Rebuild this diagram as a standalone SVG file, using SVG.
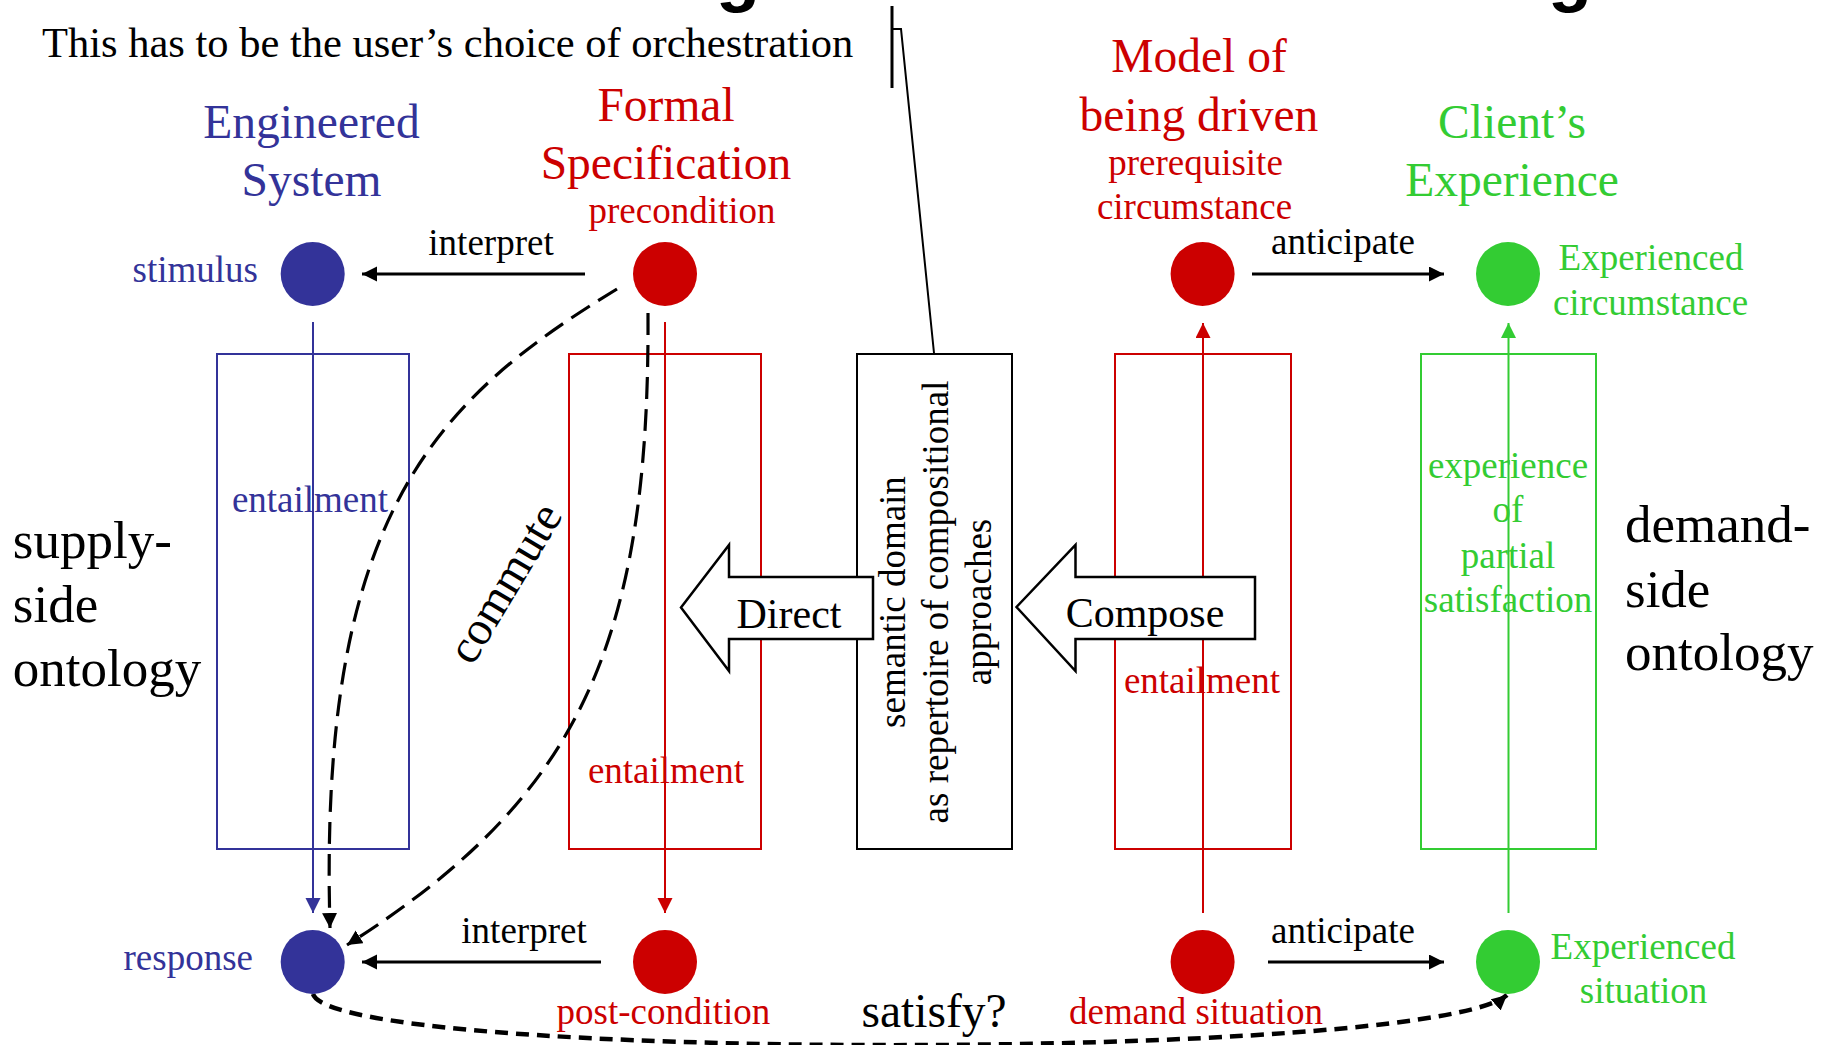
<svg xmlns="http://www.w3.org/2000/svg" width="1829" height="1045" viewBox="0 0 1829 1045">
<style>
text{font-family:"Liberation Serif","Times New Roman",serif;}
.blue{fill:#333399}
.red{fill:#CC0000}
.green{fill:#33CC33}
.blk{fill:#000}
.big{font-size:47.5px}
.sm{font-size:37px}
.side{font-size:53px}
.mid{text-anchor:middle}
.end{text-anchor:end}
.box{fill:none;stroke-width:2}
.hline{stroke:#000;stroke-width:3;fill:none}
.dash{stroke:#000;stroke-width:3.2;fill:none;stroke-dasharray:22 10}
.dash2{stroke:#000;stroke-width:4.5;fill:none;stroke-dasharray:13 8}
.block{fill:#fff;stroke:#000;stroke-width:2.5}
</style>
<defs>
<marker id="ahK" markerUnits="userSpaceOnUse" markerWidth="16" markerHeight="16" refX="15" refY="7.5" orient="auto"><path d="M0,0 L15,7.5 L0,15 z" fill="#000"/></marker>
<marker id="ahB" markerUnits="userSpaceOnUse" markerWidth="16" markerHeight="16" refX="15" refY="7.5" orient="auto"><path d="M0,0 L15,7.5 L0,15 z" fill="#333399"/></marker>
<marker id="ahR" markerUnits="userSpaceOnUse" markerWidth="16" markerHeight="16" refX="15" refY="7.5" orient="auto"><path d="M0,0 L15,7.5 L0,15 z" fill="#CC0000"/></marker>
<marker id="ahG" markerUnits="userSpaceOnUse" markerWidth="16" markerHeight="16" refX="15" refY="7.5" orient="auto"><path d="M0,0 L15,7.5 L0,15 z" fill="#33CC33"/></marker>
</defs>
<rect width="1829" height="1045" fill="#fff"/>

<g id="title-fragments" font-weight="bold" font-size="72">
<text x="716" y="-2" style="font-family:'Liberation Sans',Arial,sans-serif">g</text>
<text x="1548" y="-2" style="font-family:'Liberation Sans',Arial,sans-serif">g</text>
</g>

<g id="note">
<text x="42" y="56.5" font-size="42.5" class="blk">This has to be the user’s choice of orchestration</text>
</g>

<g id="supply-side">
<text class="side blk" x="12.8" y="557.6">supply-</text>
<text class="side blk" x="12.8" y="621.7">side</text>
<text class="side blk" x="12.8" y="686">ontology</text>
</g>
<g id="demand-side">
<text class="side blk" x="1625" y="542">demand-</text>
<text class="side blk" x="1625" y="606.5">side</text>
<text class="side blk" x="1625" y="670">ontology</text>
</g>

<g id="engineered-system">
<text class="big blue mid" x="311.5" y="137.6">Engineered</text>
<text class="big blue mid" x="311.5" y="196">System</text>
</g>
<g id="formal-specification">
<text class="big red mid" x="666" y="121">Formal</text>
<text class="big red mid" x="666" y="179">Specification</text>
</g>
<g id="model-being-driven">
<text class="big red mid" x="1199" y="72">Model of</text>
<text class="big red mid" x="1199" y="131">being driven</text>
</g>
<g id="clients-experience">
<text class="big green mid" x="1512" y="138">Client’s</text>
<text class="big green mid" x="1512" y="196">Experience</text>
</g>

<g id="box-engineered">
<rect class="box" x="217" y="354" width="192" height="495" stroke="#333399"/>
</g>
<g id="box-formal">
<rect class="box" x="569" y="354" width="192" height="495" stroke="#CC0000"/>
</g>
<g id="box-semantic">
<rect class="box" x="857" y="354" width="155" height="495" stroke="#000"/>
<g transform="translate(0,602) rotate(-90)">
<text class="sm blk mid" x="0" y="905">semantic domain</text>
<text class="sm blk mid" x="0" y="948">as repertoire of compositional</text>
<text class="sm blk mid" x="0" y="991">approaches</text>
</g>
</g>
<g id="box-model">
<rect class="box" x="1115" y="354" width="176" height="495" stroke="#CC0000"/>
</g>
<g id="box-client">
<rect class="box" x="1421" y="354" width="175" height="495" stroke="#33CC33"/>
</g>

<g id="connectors">
<line class="hline" x1="892" y1="6" x2="892" y2="88"/>
<polyline class="hline" style="stroke-width:2" points="892,29 901,29 934,353"/>
<line class="hline" x1="585" y1="274" x2="362" y2="274" marker-end="url(#ahK)"/>
<line class="hline" x1="601" y1="962" x2="362" y2="962" marker-end="url(#ahK)"/>
<line class="hline" x1="1252" y1="274" x2="1444" y2="274" marker-end="url(#ahK)"/>
<line class="hline" x1="1268" y1="962" x2="1444" y2="962" marker-end="url(#ahK)"/>
<line x1="313" y1="322" x2="313" y2="913" stroke="#333399" stroke-width="2" marker-end="url(#ahB)"/>
<line x1="665" y1="322" x2="665" y2="913" stroke="#CC0000" stroke-width="2" marker-end="url(#ahR)"/>
<line x1="1203" y1="913" x2="1203" y2="323" stroke="#CC0000" stroke-width="2" marker-end="url(#ahR)"/>
<line x1="1508.5" y1="913" x2="1508.5" y2="323" stroke="#33CC33" stroke-width="2" marker-end="url(#ahG)"/>
<path class="dash" d="M617,289 C435,400 318,515 330,928" marker-end="url(#ahK)"/>
<path class="dash" d="M648,313 C650,650 575,800 347,945" marker-end="url(#ahK)"/>
<path class="dash2" d="M313,994 C335,1062 1430,1062 1507,995" marker-end="url(#ahK)"/>
</g>

<g id="direct">
<polygon class="block" points="681,607.5 729,545 729,577 873,577 873,639 729,639 729,671"/>
<text x="789" y="627.5" font-size="42" class="blk mid">Direct</text>
</g>
<g id="compose">
<polygon class="block" points="1016.5,607 1075.5,545 1075.5,577 1255,577 1255,639 1075.5,639 1075.5,671"/>
<text x="1145" y="627" font-size="42" class="blk mid">Compose</text>
</g>

<g id="labels">
<text class="sm blk mid" x="491" y="255">interpret</text>
<text class="sm blk mid" x="524" y="943">interpret</text>
<text class="sm blk mid" x="1343" y="254">anticipate</text>
<text class="sm blk mid" x="1343" y="943">anticipate</text>
<text class="sm blue mid" x="310" y="511.5">entailment</text>
<text class="sm red mid" x="666" y="783">entailment</text>
<text class="sm red mid" x="1202" y="692.5">entailment</text>
<text class="sm green mid" x="1508" y="478">experience</text>
<text class="sm green mid" x="1508" y="522">of</text>
<text class="sm green mid" x="1508" y="567.5">partial</text>
<text class="sm green mid" x="1508" y="612">satisfaction</text>
<text x="0" y="0" font-size="47.5" class="blk mid" transform="translate(518,591) rotate(-59)">commute</text>
<text x="934" y="1026.5" font-size="47.5" class="blk mid">satisfy?</text>
</g>

<g id="stimulus">
<circle cx="312.7" cy="274" r="32" fill="#333399"/>
<text class="sm blue end" x="258" y="282">stimulus</text>
</g>
<g id="precondition">
<circle cx="665" cy="274" r="32" fill="#CC0000"/>
<text class="sm red mid" x="682" y="222.7">precondition</text>
</g>
<g id="prerequisite-circumstance">
<circle cx="1202.6" cy="274" r="32" fill="#CC0000"/>
<text class="sm red mid" x="1195.5" y="175">prerequisite</text>
<text class="sm red mid" x="1194.5" y="219">circumstance</text>
</g>
<g id="experienced-circumstance">
<circle cx="1508" cy="274" r="32" fill="#33CC33"/>
<text class="sm green mid" x="1651" y="270">Experienced</text>
<text class="sm green mid" x="1650.5" y="315">circumstance</text>
</g>
<g id="response">
<circle cx="312.7" cy="962" r="32" fill="#333399"/>
<text class="sm blue end" x="253" y="970">response</text>
</g>
<g id="post-condition">
<circle cx="665" cy="962" r="32" fill="#CC0000"/>
<text class="sm red mid" x="663.5" y="1024">post-condition</text>
</g>
<g id="demand-situation">
<circle cx="1202.6" cy="962" r="32" fill="#CC0000"/>
<text class="sm red mid" x="1196" y="1024">demand situation</text>
</g>
<g id="experienced-situation">
<circle cx="1508" cy="962" r="32" fill="#33CC33"/>
<text class="sm green mid" x="1643" y="959">Experienced</text>
<text class="sm green mid" x="1643.5" y="1003">situation</text>
</g>
</svg>
